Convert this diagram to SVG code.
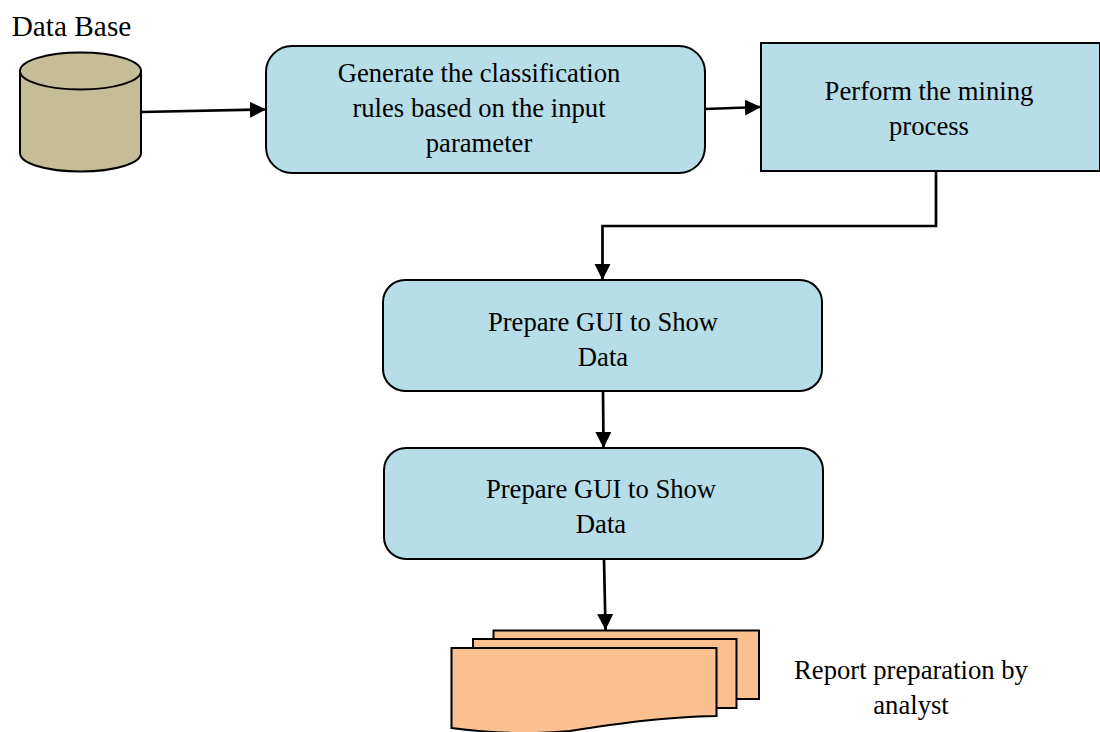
<svg xmlns="http://www.w3.org/2000/svg" width="1100" height="732" viewBox="0 0 1100 732">
<defs>
<marker id="arrow" markerUnits="userSpaceOnUse" markerWidth="17" markerHeight="17" refX="16" refY="8" orient="auto"><path d="M0 0L16 8L0 16Z" fill="#000"/></marker>
</defs>
<style>
.box{fill:#b7dde8;stroke:#000;stroke-width:2}
.t{font-family:"Liberation Serif","Times New Roman",serif;font-size:26.670px;fill:#000;text-anchor:middle}
.c{fill:none;stroke:#000;stroke-width:2.700;marker-end:url(#arrow)}
.doc{fill:#fac090;stroke:#000;stroke-width:2}
</style>
<rect width="1100" height="732" fill="#fff"/>
<g id="connectors">
<path class="c" d="M141 112L266 109.500"/>
<path class="c" d="M705 109L761 107"/>
<path class="c" d="M936 171V226H602.500V280"/>
<path class="c" d="M603 391L603.500 448"/>
<path class="c" d="M604 559L605.500 630"/>
</g>
<g id="database">
<path d="M20 71V153C20 163 45 171.500 80.500 171.500C116 171.500 141 163 141 153V71Z" fill="#c4bd97" stroke="#000" stroke-width="2"/>
<ellipse cx="80.500" cy="71" rx="60.500" ry="18.500" fill="#c4bd97" stroke="#000" stroke-width="2"/>
<text class="t" x="71.500" y="36" style="font-size:29.300px">Data Base</text>
</g>
<g id="generate">
<rect class="box" x="266" y="46" width="439" height="127" rx="26"/>
<text class="t" x="479" y="82">Generate the classification</text>
<text class="t" x="479" y="117">rules based on the input</text>
<text class="t" x="479" y="152">parameter</text>
</g>
<g id="mining">
<rect class="box" x="761" y="43" width="339" height="128"/>
<text class="t" x="929" y="100">Perform the mining</text>
<text class="t" x="929" y="135">process</text>
</g>
<g id="gui1">
<rect class="box" x="383" y="280" width="439" height="111" rx="22"/>
<text class="t" x="603" y="331">Prepare GUI to Show</text>
<text class="t" x="603" y="366">Data</text>
</g>
<g id="gui2">
<rect class="box" x="384" y="448" width="439" height="111" rx="22"/>
<text class="t" x="601" y="498">Prepare GUI to Show</text>
<text class="t" x="601" y="533">Data</text>
</g>
<g id="report">
<rect class="doc" x="493.500" y="630.500" width="265.500" height="68.500"/>
<rect class="doc" x="473" y="639" width="263.500" height="69"/>
<path class="doc" d="M451.500 648H716.500V716C660 717 615 724 570 731C530 735 490 733 451.500 728Z"/>
<text class="t" x="911" y="679">Report preparation by</text>
<text class="t" x="911" y="714">analyst</text>
</g>
</svg>
